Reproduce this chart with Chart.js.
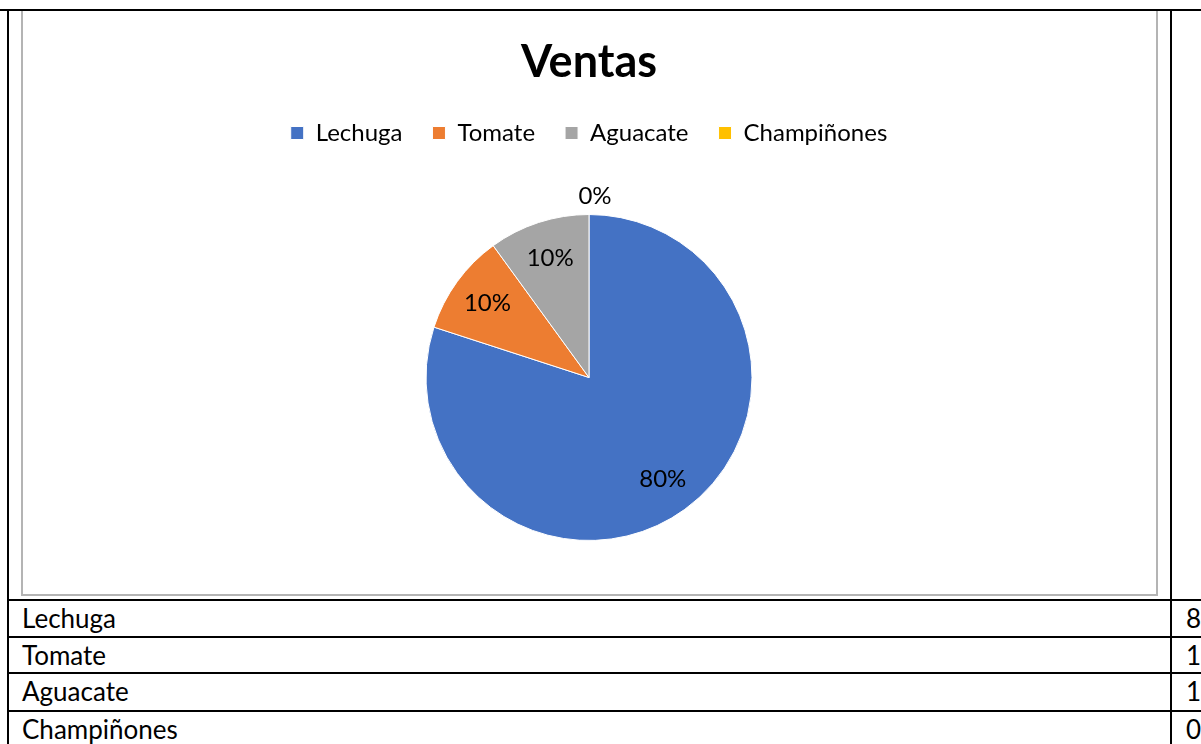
<!DOCTYPE html>
<html>
<head>
<meta charset="utf-8">
<script src="https://cdn.jsdelivr.net/npm/chart.js@4.4.1/dist/chart.umd.min.js"></script>
<style>
  body { margin: 0; background: #fff; width: 1201px; height: 744px; overflow: hidden; position: relative; font-family: Lato, 'Open Sans', sans-serif; }
  .ln { position: absolute; background: #000; }
  .box { position: absolute; left: 21px; top: 11px; width: 1133px; height: 583px; border: 2px solid #b4b4b4; border-top: none; }
  #wrap { position: absolute; left: 23px; top: 11px; width: 1132px; height: 589px; }
  .cell { position: absolute; font-size: 26px; color: #000; line-height: 28px; }
</style>
</head>
<body>
<div class="box"></div>
<div id="wrap"><canvas id="ventasChart" width="1132" height="589"></canvas></div>
<div class="ln" style="left:0;top:9px;width:1201px;height:2px"></div>
<div class="ln" style="left:7px;top:9px;width:2px;height:735px"></div>
<div class="ln" style="left:1170px;top:9px;width:2px;height:735px"></div>
<div id="rows"></div>
<script>
var categories = ['Lechuga', 'Tomate', 'Aguacate', 'Champiñones'];
var ventas = [8, 1, 1, 0];
var colores = ['#4472C4', '#ED7D31', '#A5A5A5', '#FFC000'];
var titulo = 'Ventas';

// table under the chart
var rowTops = [599, 636, 672, 710];
var rows = document.getElementById('rows');
categories.forEach(function(cat, i) {
    var line = document.createElement('div');
    line.className = 'ln';
    line.style.cssText = 'left:7px;top:' + rowTops[i] + 'px;width:1194px;height:2px';
    rows.appendChild(line);
    var name = document.createElement('div');
    name.className = 'cell';
    name.style.left = '22px';
    name.style.top = (rowTops[i] + 5) + 'px';
    name.textContent = cat;
    rows.appendChild(name);
    var val = document.createElement('div');
    val.className = 'cell';
    val.style.left = '1186px';
    val.style.top = (rowTops[i] + 5) + 'px';
    val.textContent = ventas[i];
    rows.appendChild(val);
});

// percent labels on the slices, outside when the slice is empty
var pieLabels = {
    id: 'pieLabels',
    afterDatasetsDraw: function(chart) {
        var ctx = chart.ctx;
        var data = chart.data.datasets[0].data;
        var total = data.reduce(function(a, b) { return a + b; }, 0);
        ctx.save();
        ctx.font = '24px Lato';
        ctx.fillStyle = '#000';
        ctx.textAlign = 'center';
        ctx.textBaseline = 'middle';
        chart.getDatasetMeta(0).data.forEach(function(arc, i) {
            var p = arc.getProps(['x', 'y', 'startAngle', 'endAngle', 'outerRadius'], true);
            var mid = (p.startAngle + p.endAngle) / 2;
            var r = data[i] > 0 ? p.outerRadius * 0.77 : p.outerRadius + 18;
            var x = p.x + Math.cos(mid) * r + (data[i] > 0 ? 0 : 6);
            var y = p.y + Math.sin(mid) * r;
            ctx.fillText(Math.round(data[i] / total * 100) + '%', x, y);
        });
        ctx.restore();
    }
};

var ctx = document.getElementById('ventasChart').getContext('2d');
new Chart(ctx, {
    type: 'pie',
    data: {
        labels: categories,
        datasets: [{
            data: ventas,
            backgroundColor: colores,
            borderColor: '#ffffff',
            borderWidth: 1,
            radius: 163
        }]
    },
    options: {
        responsive: false,
        animation: false,
        devicePixelRatio: 1,
        layout: { padding: 0 },
        plugins: {
            title: {
                display: true,
                text: titulo,
                color: '#000',
                font: { family: 'Lato', size: 45, weight: 'bold', lineHeight: 1.2 },
                padding: { top: 24, bottom: 2 }
            },
            legend: {
                position: 'top',
                labels: {
                    color: '#000',
                    boxWidth: 13,
                    boxHeight: 13,
                    padding: 30,
                    font: { family: 'Lato', size: 24 }
                }
            },
            tooltip: { enabled: false }
        }
    },
    plugins: [pieLabels]
});
</script>
</body>
</html>
